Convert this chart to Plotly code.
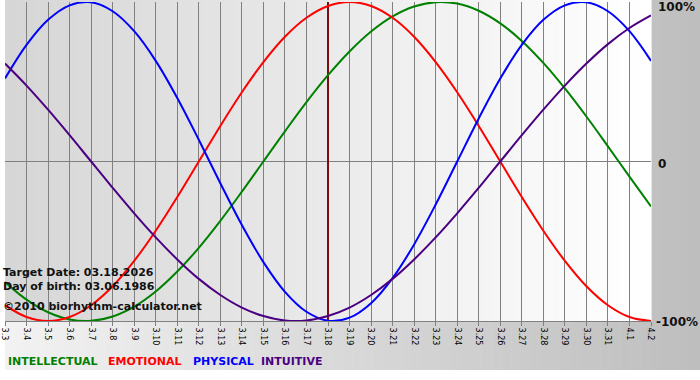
import plotly.graph_objects as go

# ---- data ----
days = ["3.3", "3.4", "3.5", "3.6", "3.7", "3.8", "3.9", "3.10", "3.11", "3.12",
        "3.13", "3.14", "3.15", "3.16", "3.17", "3.18", "3.19", "3.20", "3.21", "3.22",
        "3.23", "3.24", "3.25", "3.26", "3.27", "3.28", "3.29", "3.30", "3.31", "4.1", "4.2"]

intellectual = [-0.756, -0.866, -0.945, -0.990, -0.999, -0.972, -0.910, -0.815, -0.690, -0.541,
                -0.372, -0.189, 0.000, 0.189, 0.372, 0.541, 0.690, 0.815, 0.910, 0.972,
                0.999, 0.990, 0.945, 0.866, 0.756, 0.618, 0.458, 0.282, 0.095, -0.095, -0.282]
emotional = [-0.901, -0.975, -1.000, -0.975, -0.901, -0.782, -0.623, -0.434, -0.223, 0.000,
             0.223, 0.434, 0.623, 0.782, 0.901, 0.975, 1.000, 0.975, 0.901, 0.782,
             0.623, 0.434, 0.223, 0.000, -0.223, -0.434, -0.623, -0.782, -0.901, -0.975, -1.000]
physical = [0.520, 0.731, 0.888, 0.979, 0.998, 0.942, 0.817, 0.631, 0.398, 0.136,
            -0.136, -0.398, -0.631, -0.817, -0.942, -0.998, -0.979, -0.888, -0.731, -0.520,
            -0.270, 0.000, 0.270, 0.520, 0.731, 0.888, 0.979, 0.998, 0.942, 0.817, 0.631]
intuitive = [0.614, 0.476, 0.325, 0.165, 0.000, -0.165, -0.325, -0.476, -0.614, -0.736,
             -0.837, -0.916, -0.969, -0.997, -0.997, -0.969, -0.916, -0.837, -0.736, -0.614,
             -0.476, -0.325, -0.165, 0.000, 0.165, 0.325, 0.476, 0.614, 0.736, 0.837, 0.916]

series_names = ["INTELLECTUAL", "EMOTIONAL", "PHYSICAL", "INTUITIVE"]
series_colors = ["#008000", "#ff0000", "#0000ff", "#4b0082"]
target_day = "3.18"
target_text = "Target Date: 03.18.2026"
birth_text = "Day of birth: 03.06.1986"
copyright_text = "©2010 biorhythm-calculator.net"
y_labels = [(1, "100%"), (0, "0"), (-1, "-100%")]

# ---- layout geometry ----
W, H = 700, 380
ML, MR, MT, MB = 0, 49, 2, 59
PW = W - ML - MR
PH = H - MT - MB


def px_x(px):
    return (px - ML) / PW


def px_y(py):
    return (H - MB - py) / PH


def lerp_color(c0, c1, t):
    a = [int(c0[i:i + 2], 16) for i in (1, 3, 5)]
    b = [int(c1[i:i + 2], 16) for i in (1, 3, 5)]
    return "#" + "".join("%02x" % round(a[k] + (b[k] - a[k]) * t) for k in range(3))


shapes = []
# paper gradient
N = 70
for i in range(N):
    shapes.append(dict(type="rect", xref="paper", yref="paper", layer="below",
                       x0=px_x(W * i / N), x1=px_x(W * (i + 1) / N + 0.5),
                       y0=px_y(370), y1=px_y(0),
                       line=dict(width=0),
                       fillcolor=lerp_color("#f2f2f2", "#bebebe", i / (N - 1))))
# plot area gradient
N2 = 62
for i in range(N2):
    shapes.append(dict(type="rect", xref="paper", yref="paper", layer="below",
                       x0=i / N2, x1=(i + 1) / N2 + 0.001,
                       y0=0, y1=px_y(0),
                       line=dict(width=0),
                       fillcolor=lerp_color("#d6d6d6", "#ffffff", i / (N2 - 1))))

fig = go.Figure()

fig.add_trace(go.Scatter(x=[target_day, target_day], y=[-1, 1], mode="lines",
                         line=dict(color="#7a0f0f", width=2), hoverinfo="skip",
                         showlegend=False))

for name, vals, col in zip(series_names, [intellectual, emotional, physical, intuitive], series_colors):
    fig.add_trace(go.Scatter(x=days, y=vals, mode="lines", name=name,
                             line=dict(color=col, width=2, shape="spline", smoothing=1.0),
                             showlegend=False))

annotations = []
for yv, txt in y_labels:
    annotations.append(dict(xref="paper", yref="y", x=1, y=yv, xanchor="left", yanchor="middle",
                            xshift=(3 if yv == -1 else 5), yshift=(-5 if yv == 1 else (-2 if yv == 0 else -1)),
                            text=txt, showarrow=False,
                            font=dict(family="DejaVu Sans", size=12, color="#111111", weight="bold")))

for txt, py in [(target_text, 272), (birth_text, 286), (copyright_text, 306.5)]:
    annotations.append(dict(xref="paper", yref="paper", x=px_x(2), y=px_y(py),
                            xanchor="left", yanchor="middle", xshift=-6, text=txt, showarrow=False,
                            font=dict(family="DejaVu Sans", size=11, color="#111111", weight="bold")))

legend_x = [7, 108, 193, 262]
for name, col, lx in zip(series_names, series_colors, legend_x):
    annotations.append(dict(xref="paper", yref="paper", x=px_x(lx), y=px_y(361.5),
                            xanchor="left", yanchor="middle", xshift=-6, text=name, showarrow=False,
                            font=dict(family="DejaVu Sans", size=11, color=col, weight="bold")))

fig.update_layout(
    width=W, height=H, autosize=False,
    margin=dict(l=ML, r=MR, t=MT, b=MB, pad=0),
    paper_bgcolor="#ffffff", plot_bgcolor="rgba(0,0,0,0)",
    shapes=shapes, annotations=annotations, showlegend=False,
    xaxis=dict(type="category", categoryorder="array", categoryarray=days,
               range=[0, len(days) - 1], showgrid=True, gridcolor="#808080", gridwidth=1,
               ticks="outside", ticklen=4, tickcolor="#808080", tickangle=90,
               tickfont=dict(family="DejaVu Sans", size=8, color="#000000"),
               showline=True, linecolor="#808080", linewidth=1, zeroline=False,
               fixedrange=True),
    yaxis=dict(range=[-1, 1], tickvals=[0], showticklabels=False, showgrid=True,
               gridcolor="#808080", gridwidth=1, zeroline=False, ticks="", showline=False,
               fixedrange=True),
)

fig.write_html("out.html")
